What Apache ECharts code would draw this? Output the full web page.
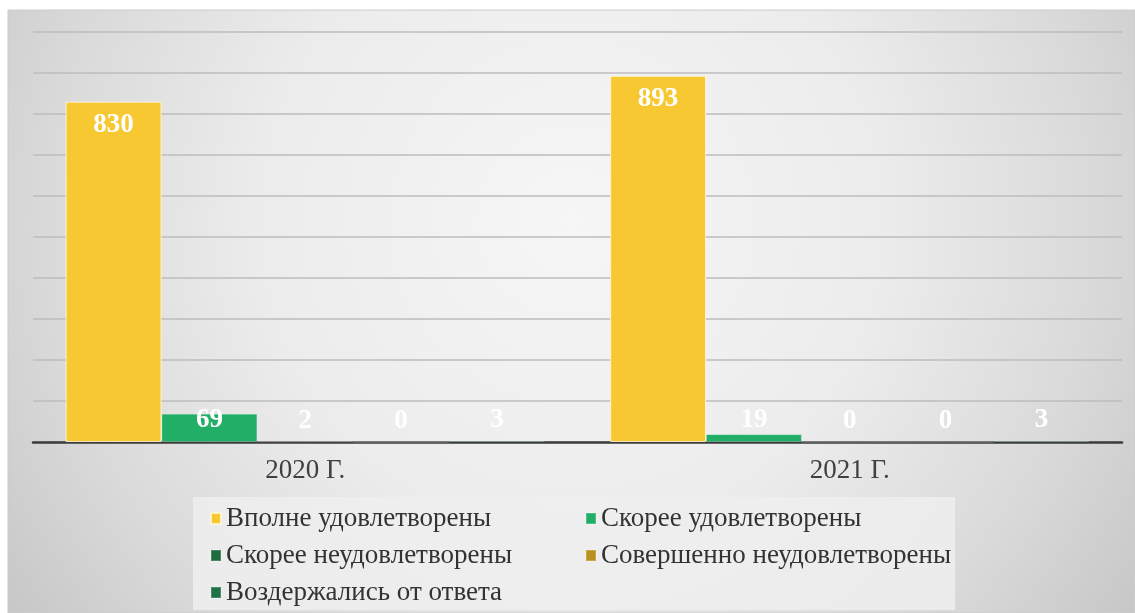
<!DOCTYPE html>
<html>
<head>
<meta charset="utf-8">
<script src="https://cdn.jsdelivr.net/npm/echarts@6/dist/echarts.min.js"></script>
<style>
html,body{margin:0;padding:0;background:#fff;}
#chart{width:1135px;height:613px;}
</style>
</head>
<body>
<div id="chart"></div>
<script>
var categories = ['2020 Г.', '2021 Г.'];
var seriesNames = ['Вполне удовлетворены', 'Скорее удовлетворены', 'Скорее неудовлетворены', 'Совершенно неудовлетворены', 'Воздержались от ответа'];
var fullySatisfied = [830, 893];
var ratherSatisfied = [69, 19];
var ratherUnsatisfied = [2, 0];
var completelyUnsatisfied = [0, 0];
var abstained = [3, 3];
var colors = ['#F8C832', '#21AE67', '#1E6B40', '#B8921E', '#1F7146'];

var chart = echarts.init(document.getElementById('chart'));
var seriesData = [fullySatisfied, ratherSatisfied, ratherUnsatisfied, completelyUnsatisfied, abstained];

var series = seriesData.map(function (d, i) {
  return {
    name: seriesNames[i],
    type: 'bar',
    data: d,
    barGap: '0%',
    barCategoryGap: '12%',
    itemStyle: {
      color: colors[i],
      borderColor: i === 0 ? 'rgba(255,250,220,0.8)' : 'rgba(255,255,255,0.2)',
      borderWidth: 1
    },
    label: {
      show: true,
      position: i === 0 ? 'insideTop' : 'insideBottom',
      distance: i === 0 ? 10 : 8,
      color: '#ffffff',
      fontFamily: 'Liberation Serif',
      fontWeight: 'bold',
      fontSize: 27
    },
    emphasis: { disabled: true }
  };
});

chart.setOption({
  animation: false,
  color: colors,
  graphic: [{
    type: 'rect',
    z: -10,
    silent: true,
    shape: { x: 8, y: 10, width: 1127, height: 603 },
    style: {
      fill: new echarts.graphic.RadialGradient(0.5, 0.35, 1.15, [
        { offset: 0, color: '#f6f6f6' },
        { offset: 0.45, color: '#ececec' },
        { offset: 0.75, color: '#dadada' },
        { offset: 1, color: '#c6c6c6' }
      ]),
      stroke: '#cccccc',
      lineWidth: 1
    }
  }],
  grid: { left: 33, right: 13, top: 32, bottom: 171 },
  xAxis: {
    type: 'category',
    data: categories,
    axisTick: { show: false },
    axisLine: { lineStyle: { color: '#3c3c3c', width: 2.5 } },
    axisLabel: {
      color: '#404040',
      fontFamily: 'Liberation Serif',
      fontSize: 27,
      margin: 15
    }
  },
  yAxis: {
    type: 'value',
    min: 0,
    max: 1000,
    interval: 100,
    axisLabel: { show: false },
    axisLine: { show: false },
    axisTick: { show: false },
    splitLine: { lineStyle: { color: '#bdbdbd', width: 1.5 } }
  },
  legend: {
    left: 193,
    top: 497,
    width: 745,
    padding: [8, 4, 4, 17],
    backgroundColor: 'rgba(238,238,238,0.85)',
    itemWidth: 10,
    itemHeight: 11,
    itemGap: 10,
    icon: 'rect',
    selectedMode: false,
    data: seriesNames,
    textStyle: {
      color: '#333333',
      fontFamily: 'Liberation Serif',
      fontSize: 27,
      lineHeight: 26,
      width: 349
    }
  },
  series: series
});
</script>
</body>
</html>
